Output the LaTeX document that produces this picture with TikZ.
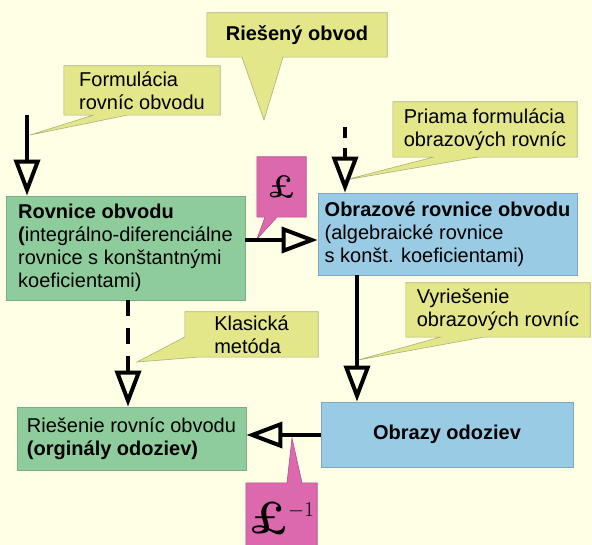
\documentclass[tikz,border=0pt]{standalone}
\usepackage{fontspec}
\setsansfont{Liberation Sans}
\usetikzlibrary{arrows.meta,calc,backgrounds}
\definecolor{pozadie}{HTML}{FFFFE6}
\definecolor{zlta}{HTML}{E3E78A}
\definecolor{zltaokraj}{HTML}{ADB07A}
\definecolor{zelena}{HTML}{8FCC9C}
\definecolor{zelenaokraj}{HTML}{7AAE88}
\definecolor{modra}{HTML}{99CBE4}
\definecolor{modraokraj}{HTML}{7FA7C0}
\definecolor{ruzova}{HTML}{DC68AD}
\definecolor{ruzovaokraj}{HTML}{B85090}
\tikzset{
	txt/.style={font=\sffamily\fontsize{20}{23}\selectfont, align=left, inner sep=0pt},
	zbox/.style={txt, fill=zelena, draw=zelenaokraj, line width=0.8pt},
	mbox/.style={txt, fill=modra, draw=modraokraj, line width=0.8pt},
	tok/.style={line width=4pt, -{Triangle[open,length=36pt,width=26pt]}},
	tokc/.style={tok, dash pattern=on 16pt off 12pt},
	bublina/.style={fill=zlta, draw=zltaokraj, line width=0.6pt},
	lbublina/.style={fill=ruzova, draw=ruzovaokraj, line width=0.6pt},
}

\begin{document}
\begin{tikzpicture}[x=1pt,y=-1pt]
	\useasboundingbox (0,0) rectangle (592,545);
	% bloky
	\node[zbox, minimum width=239pt, minimum height=104pt] (rov) at (125.5,248)
		{\textbf{Rovnice obvodu}\\\textbf{(}integrálno-diferenciálne\\rovnice s konštantnými\\koeficientami)};
	\node[mbox, minimum width=259pt, minimum height=82pt] (obr) at (447.5,234)
		{\textbf{Obrazové rovnice obvodu}\\(algebraické rovnice\\s konšt. koeficientami)};
	\node[zbox, minimum width=229pt, minimum height=63pt] (rie) at (131.5,438.5)
		{Riešenie rovníc obvodu\\\textbf{(orginály odoziev)}};
	\node[mbox, minimum width=252pt, minimum height=65pt] (obz) at (447,434.5)
		{\textbf{Obrazy odoziev}};
	%%%%%
	\node[txt, minimum width=180pt, minimum height=44pt] (ries) at (297,35) {\textbf{Riešený obvod}};
	\node[txt, minimum width=156pt, minimum height=49pt] (form) at (142,90.5) {Formulácia\\rovníc obvodu};
	\node[txt, minimum width=184pt, minimum height=55pt] (pria) at (485,129.5) {Priama formulácia\\obrazových rovníc};
	\node[txt, minimum width=133pt, minimum height=45pt] (klas) at (251.5,334.5) {Klasická\\metóda};
	\node[txt, minimum width=184pt, minimum height=54pt] (vyr) at (498,310) {Vyriešenie\\obrazových rovníc};
	\node[txt, minimum width=49pt, minimum height=60pt] (lap) at (281.5,187)
		{\fontsize{32}{32}\selectfont\rmfamily\bfseries\textsterling};
	\node[txt, minimum width=71pt, minimum height=70pt] (ilap) at (281.5,518)
		{{\fontsize{46}{46}\selectfont\rmfamily\bfseries\textsterling}\raisebox{17pt}{\fontsize{21}{21}\selectfont\rmfamily$-$1}};
	%%%%%
	\coordinate (z1) at (27,115);
	\coordinate (z2) at (345,127);
	\draw[tok] (z1) -- (z1 |- rov.north);
	\draw[tok, dash pattern=on 11pt off 10pt] (z2) -- (z2 |- obr.north);
	\draw[tok] (rov.east |- 0,240) -- (obr.west |- 0,240);
	\draw[tokc] (rov.south -| 128,0) -- (rie.north -| 128,0);
	\draw[tok] (obr.south -| 357,0) -- (obz.north -| 357,0);
	\draw[tok] (obz.west |- 0,435) -- (rie.east |- 0,435);
	%%%%%
	\begin{scope}[on background layer]
		\fill[pozadie] (0,0) rectangle (592,545);
		\draw[bublina] (ries.north west) -- (ries.north east) -- (ries.south east) -- (ries.south -| 283,0)
			-- (264,120) -- (ries.south -| 242,0) -- (ries.south west) -- cycle;
		\draw[bublina] (form.north west) -- (form.north east) -- (form.south east) -- (form.south -| 127,0)
			-- (30,135) -- (form.south -| 93,0) -- (form.south west) -- cycle;
		\draw[bublina] (pria.north west) -- (pria.north east) -- (pria.south east) -- (pria.south -| 477,0)
			-- (345,180) -- (pria.south -| 433,0) -- (pria.south west) -- cycle;
		\draw[bublina] (klas.north west) -- (klas.north east) -- (klas.south east) -- (klas.south -| 197,0)
			-- (137,362) -- (klas.west |- 0,337) -- cycle;
		\draw[bublina] (vyr.north west) -- (vyr.north east) -- (vyr.south east) -- (vyr.south -| 483,0)
			-- (358,360) -- (vyr.south -| 440,0) -- (vyr.south west) -- cycle;
		\draw[lbublina] (lap.north west) -- (lap.north east) -- (lap.south east) -- (lap.south -| 277,0)
			-- (257,239) -- (lap.south -| 265,0) -- (lap.south west) -- cycle;
		\draw[lbublina] (ilap.north west) -- (ilap.north -| 287,0) -- (292,438) -- (ilap.north -| 302,0)
			-- (ilap.north east) -- (ilap.south east) -- (ilap.south west) -- cycle;
	\end{scope}
\end{tikzpicture}
\end{document}
